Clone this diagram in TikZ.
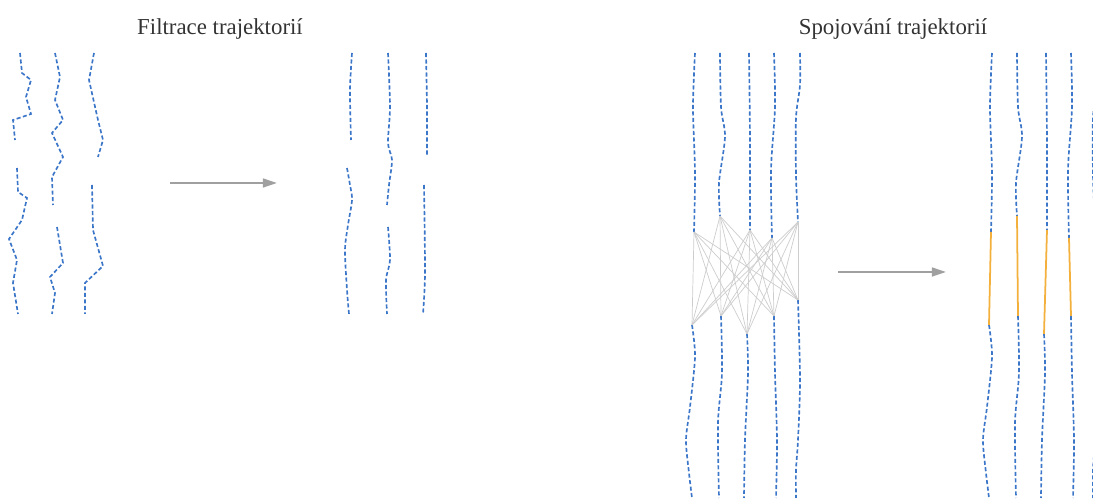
\documentclass[tikz,border=0pt]{standalone}
\usepackage{fontspec}
\setmainfont{Liberation Serif}
\usetikzlibrary{arrows.meta}

\definecolor{trajmodra}{RGB}{60,118,200}
\definecolor{sedaweb}{RGB}{205,205,205}
\definecolor{spojoranz}{RGB}{243,176,60}
\definecolor{sipkaseda}{RGB}{160,160,160}

\begin{document}
\begin{tikzpicture}[x=0.02cm, y=-0.02cm, >={Triangle[length=8pt, width=5pt]},
    traj/.style={draw=trajmodra, line width=0.95pt, dash pattern=on 2.3pt off 1.4pt},
    web/.style={draw=sedaweb, line width=0.4pt},
    spojka/.style={draw=spojoranz, line width=1pt},
    sipka/.style={->, draw=sipkaseda, fill=sipkaseda, line width=1.2pt},
    nadpis/.style={font=\fontsize{13}{15}\selectfont, text=black!80}]
        % Rozměr obrázku
        \useasboundingbox (0,0) rectangle (1093,502);
        \def\posun{297}  % posun pravého panelu

        % Nadpisy
        \node[nadpis] (filtrace) at (220,29) {Filtrace trajektorií};
        \node[nadpis] (spojovani) at (893,29) {Spojování trajektorií};

        % Filtrace - původní trajektorie (kostrbaté)
        \draw[traj] (20,53) -- (22,73) -- (31,80) -- (26,97) -- (31,114) -- (13,120) -- (15,140);
        \draw[traj] (17,168) -- (18,192) -- (27,198) -- (22,220) -- (9,239) -- (17,260) -- (13,283) -- (18,314);
        \draw[traj] (55,53) -- (60,77) -- (55,100) -- (63,120) -- (52,133) -- (63,157) -- (52,177) -- (53,205);
        \draw[traj] (57,227) -- (63,263) -- (50,277) -- (55,293) -- (52,314);
        \draw[traj] (94,53) -- (89,80) -- (98,120) -- (103,140) -- (98,157);
        \draw[traj] (92,185) -- (93,230) -- (103,266) -- (85,283) -- (85,314);

        % Filtrace - vyhlazené trajektorie
        \draw[traj] plot[smooth] coordinates {(352,53) (350,90) (351,140)};
        \draw[traj] plot[smooth] coordinates {(347,168) (350,185) (352,200) (348,225) (345,250) (347,290) (349,314)};
        \draw[traj] plot[smooth] coordinates {(388,53) (390,107) (388,143) (392,160) (389,185) (387,205)};
        \draw[traj] plot[smooth] coordinates {(388,227) (390,260) (386,280) (387,314)};
        \draw[traj] plot[smooth] coordinates {(426,53) (427,107) (427,157)};
        \draw[traj] plot[smooth] coordinates {(424,185) (425,273) (423,314)};

        % Šipky mezi panely
        \coordinate (f-od) at (170,183);
        \coordinate (f-do) at (277,183);
        \draw[sipka] (f-od) -- (f-do);
        \coordinate (s-od) at (838,272);
        \coordinate (s-do) at (946,272);
        \draw[sipka] (s-od) -- (s-do);

        % Spojování - konce (t) a začátky (b) úseků, vlevo (a) a vpravo (b)
        \foreach \dx/\s in {0/a, \posun/b} {
            \begin{scope}[shift={(\dx,0)}]
                \coordinate (\s-t1) at (694,232);
                \coordinate (\s-t2) at (720,216);
                \coordinate (\s-t3) at (750,230);
                \coordinate (\s-t4) at (772,238);
                \coordinate (\s-t5) at (798,222);
                \coordinate (\s-b1) at (692,325);
                \coordinate (\s-b2) at (721,316);
                \coordinate (\s-b3) at (747,334);
                \coordinate (\s-b4) at (774,316);
                \coordinate (\s-b5) at (798,300);

                \draw[traj] plot[smooth] coordinates {(695,53) (693,107) (695,173) (\s-t1)};
                \draw[traj] plot[smooth] coordinates {(\s-b1) (695,357) (690,407) (686,440) (689,473) (692,498)};
                \draw[traj] plot[smooth] coordinates {(720,53) (721,107) (725,137) (719,183) (\s-t2)};
                \draw[traj] plot[smooth] coordinates {(\s-b2) (722,373) (718,423) (719,498)};
                \draw[traj] plot[smooth] coordinates {(749,53) (750,140) (\s-t3)};
                \draw[traj] plot[smooth] coordinates {(\s-b3) (748,373) (745,440) (744,498)};
                \draw[traj] plot[smooth] coordinates {(774,53) (775,107) (771,170) (\s-t4)};
                \draw[traj] plot[smooth] coordinates {(\s-b4) (775,373) (777,440) (776,498)};
                \draw[traj] plot[smooth] coordinates {(800,53) (800,85) (796,118) (796,175) (\s-t5)};
                \draw[traj] plot[smooth] coordinates {(\s-b5) (800,380) (798,440) (796,470) (796,498)};
            \end{scope}
        }

        % Kandidátní spojení (každý s každým)
        \foreach \i in {1,...,5}
            \foreach \j in {1,...,5}
                \draw[web] (a-t\i) -- (a-b\j);

        % Výsledná spojení
        \foreach \i in {1,...,5}
            \draw[spojka] (b-t\i) -- (b-b\i);

    \end{tikzpicture}
\end{document}
